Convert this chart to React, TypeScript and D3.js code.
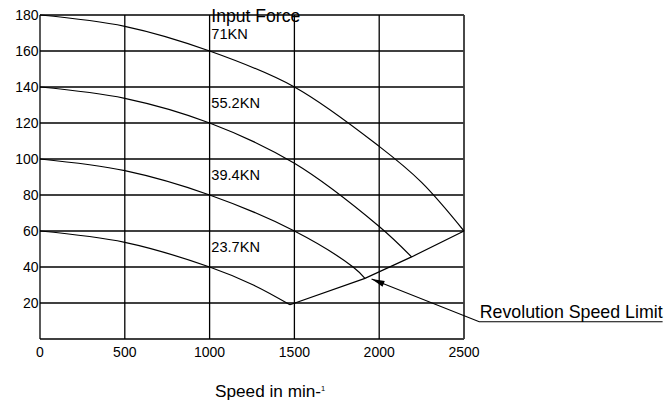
import React from "react";
import * as d3 from "d3";

const xTicks = [0, 500, 1000, 1500, 2000, 2500];
const yTicks = [20, 40, 60, 80, 100, 120, 140, 160, 180];

type P = [number, number];
const force71: P[] = [[0, 180], [500, 173.7], [1000, 160], [1500, 140], [2000, 107], [2250, 87], [2500, 60]];
const force552: P[] = [[0, 140], [500, 133.7], [1000, 120], [1500, 97.6], [2000, 62.5], [2191, 45.6]];
const force394: P[] = [[0, 100], [500, 93.5], [1000, 80], [1500, 60], [1846, 40], [1916, 33.7]];
const force237: P[] = [[0, 60], [500, 53.7], [1000, 40], [1258, 30], [1474, 19]];
const speedLimit: P[] = [[1474, 19], [1916, 33.7], [2191, 45.6], [2500, 60]];

const forceLabels = [
  { text: "71KN", x: 1010, y: 169.5 },
  { text: "55.2KN", x: 1010, y: 131 },
  { text: "39.4KN", x: 1010, y: 91.5 },
  { text: "23.7KN", x: 1010, y: 51 },
];
const titleLabel = { text: "Input Force", x: 1010, y: 179.5 };
const arrowTip: P = [1955, 33.3];
const arrowBend: P = [2590, 9.6];
const arrowEnd: P = [3671, 9.6];
const limitLabel = "Revolution Speed Limit";

const W = 667;
const H = 401;
const FONT = "'Liberation Sans', Arial, Helvetica, sans-serif";

export default function App() {
  const x = d3.scaleLinear().domain([0, 2500]).range([40, 464]);
  const y = d3.scaleLinear().domain([0, 180]).range([339, 15]);
  const line = d3
    .line<P>()
    .x((d) => x(d[0]))
    .y((d) => y(d[1]))
    .curve(d3.curveCatmullRom.alpha(0.5));
  const straight = d3
    .line<P>()
    .x((d) => x(d[0]))
    .y((d) => y(d[1]));

  const tx = x(arrowTip[0]);
  const ty = y(arrowTip[1]);
  const bx = x(arrowBend[0]);
  const by = y(arrowBend[1]);
  const ang = Math.atan2(by - ty, bx - tx);
  const len = 13;
  const hw = 3;
  const ax = tx + len * Math.cos(ang);
  const ay = ty + len * Math.sin(ang);
  const head = `M${tx},${ty} L${ax - hw * Math.sin(ang)},${ay + hw * Math.cos(ang)} L${ax + hw * Math.sin(ang)},${ay - hw * Math.cos(ang)} Z`;

  return (
    <svg
      width={W}
      height={H}
      style={{ position: "absolute", left: 0, top: 0, background: "#fff" }}
      fontFamily={FONT}
    >
      <rect x={0} y={0} width={W} height={H} fill="#fff" />
      {/* grid */}
      {xTicks.map((t) => (
        <line key={"gx" + t} x1={x(t)} x2={x(t)} y1={y(0)} y2={y(180)} stroke="#000" strokeWidth={1.3} />
      ))}
      {yTicks.map((t) => (
        <line key={"gy" + t} x1={x(0)} x2={x(2500)} y1={y(t)} y2={y(t)} stroke="#000" strokeWidth={1.3} />
      ))}
      <line x1={x(0)} x2={x(2500)} y1={y(0)} y2={y(0)} stroke="#000" strokeWidth={1.3} />
      <line x1={x(2500)} x2={x(2500)} y1={y(0)} y2={y(180)} stroke="#444" strokeWidth={1.6} />

      {/* curves */}
      {[force71, force552, force394, force237].map((s, i) => (
        <path key={"c" + i} d={line(s) || ""} fill="none" stroke="#000" strokeWidth={1.2} />
      ))}
      <path d={straight(speedLimit) || ""} fill="none" stroke="#000" strokeWidth={1.2} />

      {/* y tick labels */}
      {yTicks.map((t) => (
        <text key={"yl" + t} x={38.5} y={y(t)} dy="0.36em" textAnchor="end" fontSize={14} fill="#000">
          {t}
        </text>
      ))}
      {xTicks.map((t) => (
        <text key={"xl" + t} x={x(t)} y={357} textAnchor="middle" fontSize={14} fill="#000">
          {t}
        </text>
      ))}

      {/* labels */}
      <text x={x(titleLabel.x)} y={y(titleLabel.y)} dy="0.36em" fontSize={17.6} fill="#000">
        {titleLabel.text}
      </text>
      {forceLabels.map((l) => (
        <text key={l.text} x={x(l.x)} y={y(l.y)} dy="0.36em" fontSize={14.6} fill="#000">
          {l.text}
        </text>
      ))}

      {/* arrow annotation */}
      <path d={straight([arrowTip, arrowBend, arrowEnd]) || ""} fill="none" stroke="#000" strokeWidth={1.1} />
      <path d={head} fill="#000" />
      <text x={x(arrowBend[0]) + 0.5} y={318} fontSize={17.8} fill="#000">
        {limitLabel}
      </text>

      {/* x axis title */}
      <text x={215} y={397} fontSize={17.2} fill="#000">
        Speed in min-<tspan fontSize={7.5} dy={-6}>1</tspan>
      </text>
    </svg>
  );
}
